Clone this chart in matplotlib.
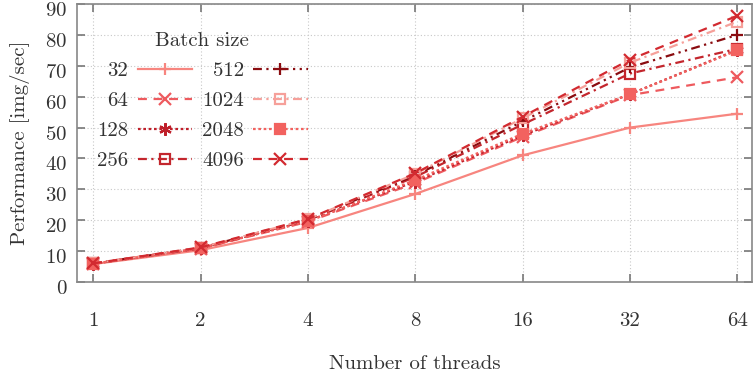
import matplotlib
matplotlib.use("Agg")
import matplotlib.pyplot as plt
from matplotlib.ticker import FixedLocator, FixedFormatter
from matplotlib.transforms import ScaledTranslation

plt.rcParams['font.family'] = ['cmr10', 'DejaVu Serif']
plt.rcParams['axes.formatter.use_mathtext'] = True
plt.rcParams['mathtext.fontset'] = 'cm'

threads = [1, 2, 4, 8, 16, 32, 64]
thread_labels = ["1", "2", "4", "8", "16", "32", "64"]
batch_labels = ["32", "64", "128", "256", "512", "1024", "2048", "4096"]
b32 = [5.8, 10.3, 17.5, 28.5, 41.0, 50.0, 54.5]
b64 = [5.9, 10.8, 19.5, 32.0, 47.0, 60.5, 66.3]
b128 = [5.9, 10.9, 19.8, 32.5, 47.5, 60.8, 75.2]
b256 = [6.0, 11.0, 20.0, 34.0, 51.0, 67.5, 75.5]
b512 = [6.0, 11.0, 20.2, 34.5, 52.0, 69.5, 80.0]
b1024 = [6.0, 11.1, 20.3, 35.0, 53.0, 71.0, 84.3]
b2048 = [5.9, 10.9, 19.6, 33.0, 48.0, 60.8, 75.0]
b4096 = [6.0, 11.2, 20.4, 35.2, 53.5, 72.0, 86.2]
series = [b32, b64, b128, b256, b512, b1024, b2048, b4096]

styles = [
    dict(color='#f7857f', ls='-', marker='+', mfc='none', ms=9),
    dict(color='#ee5a5e', ls=(0, (4, 3)), marker='x', mfc='none', ms=8),
    dict(color='#bf1f2a', ls=(0, (1.2, 1.2)), marker=(6, 2, 0), mfc='none', ms=9),
    dict(color='#c3262d', ls=(0, (4, 2, 1, 2)), marker='s', mfc='none', ms=7),
    dict(color='#8a0c10', ls=(0, (4, 2, 1, 2, 1, 2)), marker='+', mfc='none', ms=9),
    dict(color='#f6a09a', ls=(0, (4, 2, 1, 2)), marker='s', mfc='none', ms=7),
    dict(color='#f2625f', ls=(0, (1.2, 1.2)), marker='s', ms=7),
    dict(color='#d22a30', ls=(0, (4, 3)), marker='x', mfc='none', ms=9),
]

fig = plt.figure(figsize=(7.56, 3.72), dpi=100)
ax = fig.add_axes([0.102, 0.242, 0.893, 0.747])

for vals, lab, st in zip(series, batch_labels, styles):
    ax.plot(threads, vals, label=lab, lw=1.6, mew=1.6, **st)

ax.set_xscale('log', base=2)
ax.set_xlim(2 ** -0.15, 2 ** 6.14)
ax.set_ylim(0, 90)
ax.xaxis.set_major_locator(FixedLocator(threads))
ax.xaxis.set_major_formatter(FixedFormatter(thread_labels))
ax.xaxis.set_minor_locator(FixedLocator([]))
ax.yaxis.set_major_locator(FixedLocator(list(range(0, 91, 10))))

for s in ax.spines.values():
    s.set_color('#888888')
    s.set_linewidth(1.2)
ax.tick_params(axis='both', which='major', direction='in', length=6, width=1.2,
               color='#777777', labelsize=15, top=True, right=True, labelcolor='#333333')
ax.tick_params(axis='x', pad=22)
ax.tick_params(axis='y', pad=7)
ax.grid(True, ls=(0, (1, 2)), color='#c8c8c8', lw=0.8)

shift = ScaledTranslation(0, -5 / 100, fig.dpi_scale_trans)
for t in ax.yaxis.get_major_ticks():
    t.label1.set_transform(t.label1.get_transform() + shift)

ax.set_xlabel('Number of threads', fontsize=15, labelpad=18, color='#333333')
ax.set_ylabel('Performance [img/sec]', fontsize=15, labelpad=11, color='#333333')

leg = ax.legend(ncol=2, title='Batch size', markerfirst=False, frameon=False,
                fontsize=15, title_fontsize=15, loc='upper left',
                bbox_to_anchor=(0.005, 0.96), handlelength=2.6, columnspacing=0.5,
                handletextpad=0.45, labelspacing=0.55, borderpad=0.3)
for t in leg.get_texts():
    t.set_color('#333333')
leg.get_title().set_color('#333333')

fig.savefig('out.png', dpi=100)
